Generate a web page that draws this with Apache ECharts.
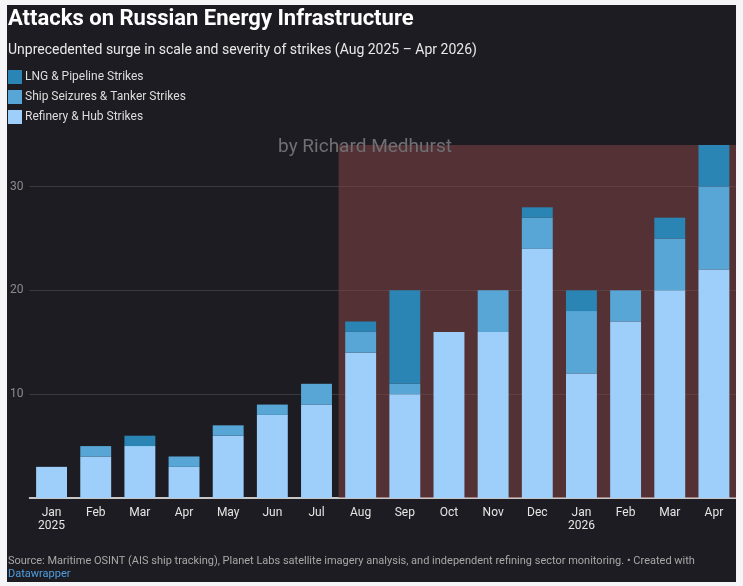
<!DOCTYPE html>
<html>
<head>
<meta charset="utf-8">
<script src="https://cdn.jsdelivr.net/npm/echarts@6/dist/echarts.min.js"></script>
<style>
	html, body { margin: 0; padding: 0; background: #f5f5f7; }
	#chart { position: absolute; left: 7px; top: 5px; width: 729px; height: 577px; }
</style>
</head>
<body>
<div id="chart"></div>
<script>
// months, Jan 2025 .. Apr 2026
var months = ['Jan 2025', 'Feb', 'Mar', 'Apr', 'May', 'Jun', 'Jul', 'Aug', 'Sep', 'Oct', 'Nov', 'Dec', 'Jan 2026', 'Feb', 'Mar', 'Apr'];
var refinery = [3, 4, 5, 3, 6, 8, 9, 14, 10, 16, 16, 24, 12, 17, 20, 22];
var ships = [0, 1, 0, 1, 1, 1, 2, 2, 1, 0, 4, 3, 6, 3, 5, 8];
var lng = [0, 0, 1, 0, 0, 0, 0, 1, 9, 0, 0, 1, 2, 0, 2, 4];
var yTicks = [10, 20, 30];
var surgeFrom = 7; // Aug 2025 index

var chart = echarts.init(document.getElementById('chart'));

var option = {
	backgroundColor: '#1d1c22',
	textStyle: { fontFamily: 'Roboto' },
	title: [{
		text: 'Attacks on Russian Energy Infrastructure',
		left: 1,
		top: 1,
		padding: 0,
		textStyle: { color: '#ffffff', fontSize: 22, fontWeight: 'bold', lineHeight: 26 }
	}, {
		text: 'Unprecedented surge in scale and severity of strikes (Aug 2025 – Apr 2026)',
		left: 1,
		top: 36,
		padding: 0,
		textStyle: { color: '#e8e8e8', fontSize: 14, fontWeight: 'normal', lineHeight: 18 }
	}],
	legend: {
		orient: 'vertical',
		left: 1,
		top: 65,
		padding: 0,
		itemWidth: 14,
		itemHeight: 14,
		itemGap: 6,
		icon: 'rect',
		data: ['LNG & Pipeline Strikes', 'Ship Seizures & Tanker Strikes', 'Refinery & Hub Strikes'],
		textStyle: { color: '#dddddd', fontSize: 12, padding: [0, 0, 0, -2] }
	},
	grid: { left: 22, right: 0, top: 140, bottom: 84 },
	xAxis: [{
		type: 'category',
		data: months,
		axisTick: { show: false },
		axisLine: { lineStyle: { color: '#ffffff', width: 1.5 } },
		axisLabel: {
			color: '#e6e6e6',
			fontSize: 12,
			lineHeight: 13,
			margin: 8,
			interval: 0,
			formatter: function(v) { return v.replace(' ', '\n'); }
		}
	}, {
		// helper axis to place the shaded band on whole categories
		type: 'value',
		min: 0,
		max: months.length,
		show: false
	}],
	yAxis: {
		type: 'value',
		min: 0,
		max: 34,
		interval: 10,
		axisLine: { show: false },
		axisTick: { show: false },
		axisLabel: {
			color: '#8c8c8c',
			fontSize: 12,
			margin: 6,
			formatter: function(v) { return yTicks.indexOf(v) >= 0 ? v : ''; }
		},
		splitLine: { showMinLine: false, showMaxLine: false, lineStyle: { color: '#3a3a40', width: 1 } }
	},
	series: [{
		name: 'surge',
		type: 'line',
		xAxisIndex: 1,
		data: [],
		z: 3,
		silent: true,
		markArea: {
			silent: true,
			itemStyle: { color: 'rgba(128,68,68,0.55)' },
			data: [[{ xAxis: surgeFrom }, { xAxis: months.length }]]
		}
	}, {
		name: 'Refinery & Hub Strikes',
		type: 'bar',
		stack: 'all',
		z: 4,
		barCategoryGap: '30%',
		itemStyle: { color: '#9dcffa' },
		data: refinery
	}, {
		name: 'Ship Seizures & Tanker Strikes',
		type: 'bar',
		stack: 'all',
		z: 4,
		itemStyle: { color: '#58a6d6' },
		data: ships
	}, {
		name: 'LNG & Pipeline Strikes',
		type: 'bar',
		stack: 'all',
		z: 4,
		itemStyle: { color: '#2a84b4' },
		data: lng
	}],
	graphic: [{
		type: 'text',
		x: 358,
		y: 142,
		z: 100,
		style: {
			text: 'by Richard Medhurst',
			fill: '#707074',
			font: '19px Roboto',
			textAlign: 'center',
			textVerticalAlign: 'middle'
		}
	}, {
		type: 'text',
		left: 1,
		top: 551,
		style: {
			text: 'Source: Maritime OSINT (AIS ship tracking), Planet Labs satellite imagery analysis, and independent refining sector monitoring. • Created with',
			fill: '#a8a8a8',
			font: '11px Roboto'
		}
	}, {
		type: 'text',
		left: 1,
		top: 564,
		style: {
			text: 'Datawrapper',
			fill: '#4f9ee0',
			font: '11px Roboto'
		}
	}]
};

chart.setOption(option);
</script>
</body>
</html>
